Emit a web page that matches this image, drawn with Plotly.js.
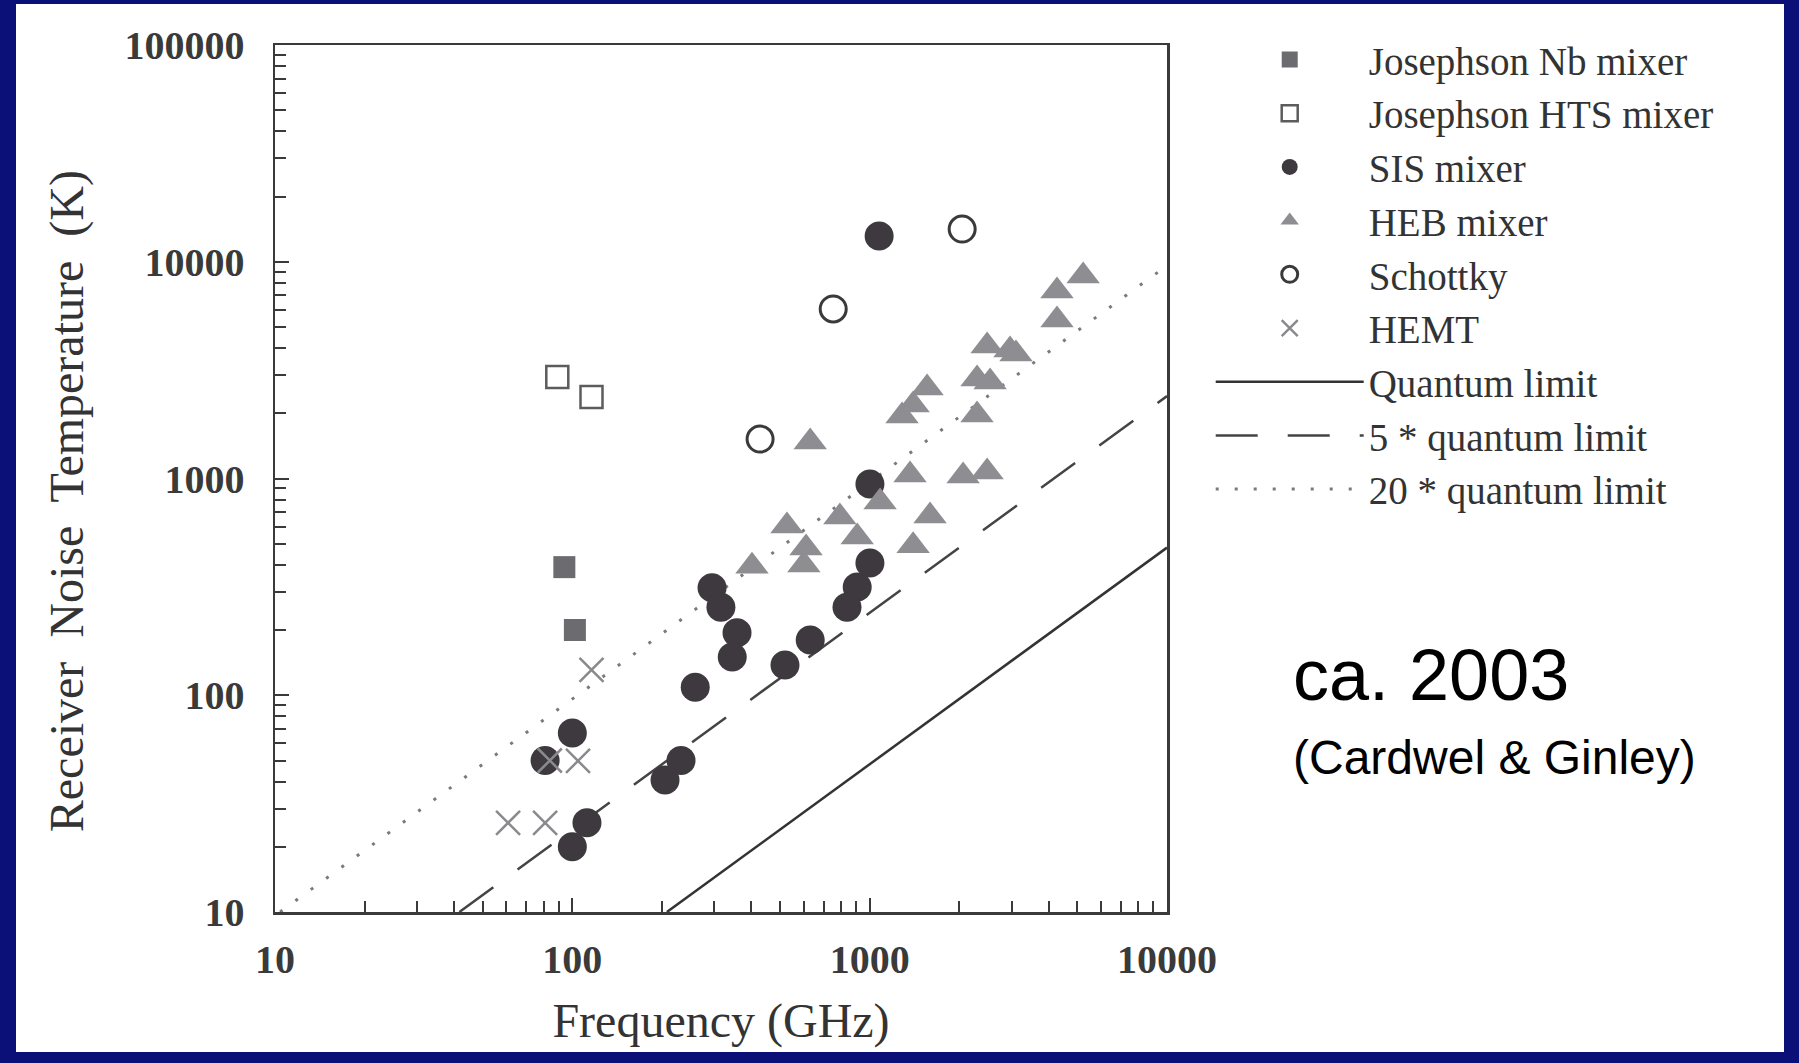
<!DOCTYPE html>
<html><head><meta charset="utf-8">
<script src="https://cdn.plot.ly/plotly-3.0.1.min.js"></script>
<style>
html,body{margin:0;padding:0;background:#0b0f78;width:1799px;height:1063px;overflow:hidden;}
#chart{position:absolute;left:16px;top:4px;width:1768px;height:1048px;background:#fff;}
</style></head><body><div id="chart"></div>
<script>
// ---- data (frequency in GHz, noise temperature in K) ----
const nbFreq = [94, 102];
const nbTemp = [390, 200];

const htsFreq = [89, 116];
const htsTemp = [2940, 2380];

const sisFreq = [1076, 1002, 1002, 908, 839, 631, 519, 295, 316, 358, 345, 259, 100, 81, 232, 205, 112, 100];
const sisTemp = [13150, 944, 407, 316, 255, 180, 138, 313, 255, 194, 150, 109, 67, 50, 50, 40.6, 25.8, 20];

const hebFreq = [5224, 4266, 4266, 2483, 2965, 3105, 2297, 2541, 2297, 1560, 1400, 1285, 1367, 2062, 2483, 1596, 1400, 1084, 794, 908, 631, 527, 611, 601, 402];
const hebTemp = [8590, 7330, 5380, 4085, 3918, 3750, 2878, 2786, 1963, 2618, 2183, 1941, 1038, 1028, 1072, 671, 489, 780, 664, 537, 1472, 604, 478, 399, 394];

const schottkyFreq = [2047, 754, 428];
const schottkyTemp = [14160, 6055, 1520];

const hemtFreq = [116, 84, 104.5, 60.8, 81];
const hemtTemp = [131, 50, 49.8, 25.8, 25.8];

// limit lines: end points
const qlFreq = [208, 10000];
const qlTemp = [10, 480];
const ql5Freq = [41.7, 10000];
const ql5Temp = [10, 2400];
const ql20Freq = [10.4, 10000];
const ql20Temp = [10, 9600];

const seriesNames = ['Josephson Nb mixer', 'Josephson HTS mixer', 'SIS mixer', 'HEB mixer', 'Schottky', 'HEMT',
                     'Quantum limit', '5 * quantum limit', '20 * quantum limit'];

const xTickVals = [10, 100, 1000, 10000];
const xTickText = ['10', '100', '1000', '10000'];
const yTickVals = [10, 100, 1000, 10000, 100000];
const yTickText = ['10', '100', '1000', '10000', '100000'];

const xTitle = 'Frequency (GHz)';
// trailing invisible padding keeps the visible title slightly below the axis centre, as in the reference
const yTitle = 'Receiver\u00a0 Noise\u00a0 Temperature\u00a0 (K)<span style="color:rgba(0,0,0,0)">ex</span>';
const note1 = 'ca. 2003';
const note2 = '(Cardwel &amp; Ginley)';

// ---- styling ----
const SERIF = 'Liberation Serif, Times New Roman, serif';
const SANS = 'Liberation Sans, Arial, sans-serif';
const AX = '#3a3a3a';

const traces = [
  {x: qlFreq, y: qlTemp, name: seriesNames[6], mode: 'lines', legendrank: 7,
   line: {color: '#333333', width: 2.5}},
  {x: ql5Freq, y: ql5Temp, name: seriesNames[7], mode: 'lines', legendrank: 8,
   line: {color: '#444444', width: 2.5, dash: '42px,30px'}},
  {x: ql20Freq, y: ql20Temp, name: seriesNames[8], mode: 'lines', legendrank: 9,
   line: {color: '#7a7a7a', width: 3, dash: '3px,16px'}},
  {x: nbFreq, y: nbTemp, name: seriesNames[0], mode: 'markers', legendrank: 1,
   marker: {symbol: 'square', size: 22, color: '#6c6b70', line: {width: 0}}},
  {x: htsFreq, y: htsTemp, name: seriesNames[1], mode: 'markers', legendrank: 2,
   marker: {symbol: 'square-open', size: 22, color: '#5c5c5c', line: {width: 2.5, color: '#5c5c5c'}}},
  {x: sisFreq, y: sisTemp, name: seriesNames[2], mode: 'markers', legendrank: 3,
   marker: {symbol: 'circle', size: 29, color: '#3d393f', line: {width: 0}}},
  {x: hebFreq, y: hebTemp, name: seriesNames[3], mode: 'markers', legendrank: 4,
   marker: {symbol: 'triangle-up', size: 29, color: '#8e8d92', line: {width: 0}}},
  {x: schottkyFreq, y: schottkyTemp, name: seriesNames[4], mode: 'markers', legendrank: 5,
   marker: {symbol: 'circle-open', size: 26, color: '#3a3a3a', line: {width: 3, color: '#3a3a3a'}}},
  {x: hemtFreq, y: hemtTemp, name: seriesNames[5], mode: 'markers', legendrank: 6,
   marker: {symbol: 'x-thin-open', size: 24, color: '#8a898e', line: {width: 2.5, color: '#8a898e'}}}
];

function axisBase(vals, text, rng, standoff) {
  return {
    type: 'log', range: rng, autorange: false,
    showline: true, linecolor: AX, linewidth: 2.5, mirror: true,
    ticks: 'inside', ticklen: 14, tickwidth: 2, tickcolor: AX,
    tickmode: 'array', tickvals: vals, ticktext: text,
    tickfont: {family: SERIF, size: 40, weight: 'bold', color: AX},
    ticklabelstandoff: standoff,
    minor: {ticks: 'inside', ticklen: 11, tickwidth: 2, tickcolor: AX, tickmode: 'linear', dtick: 'D1', showgrid: false},
    showgrid: false, zeroline: false, automargin: false, fixedrange: true
  };
}

const xaxis = axisBase(xTickVals, xTickText, [1, 4], 10);
xaxis.title = {text: xTitle, font: {family: SERIF, size: 48, color: '#333'}, standoff: 23};
const yaxis = axisBase(yTickVals, yTickText, [1, 5], 20);
yaxis.title = {text: yTitle, font: {family: SERIF, size: 48, color: '#333'}, standoff: 26};

const layout = {
  width: 1768, height: 1048,
  margin: {l: 259, r: 617, t: 41, b: 140},
  paper_bgcolor: '#ffffff', plot_bgcolor: '#ffffff',
  font: {family: SERIF, color: '#333'},
  xaxis: xaxis, yaxis: yaxis,
  showlegend: true,
  legend: {x: 1.049, xanchor: 'left', y: 1.020, yanchor: 'top',
           font: {family: SERIF, size: 39, color: '#333'},
           itemwidth: 148, bgcolor: 'rgba(0,0,0,0)', borderwidth: 0, traceorder: 'normal'},
  annotations: [
    {xref: 'paper', yref: 'paper', x: 1.139, y: 0.2734, xanchor: 'left', yanchor: 'middle',
     text: note1, showarrow: false, font: {family: SANS, size: 72, color: '#000'}},
    {xref: 'paper', yref: 'paper', x: 1.139, y: 0.1783, xanchor: 'left', yanchor: 'middle',
     text: note2, showarrow: false, font: {family: SANS, size: 48, color: '#000'}}
  ]
};

Plotly.newPlot('chart', traces, layout, {displayModeBar: false, staticPlot: true});
</script></body></html>
